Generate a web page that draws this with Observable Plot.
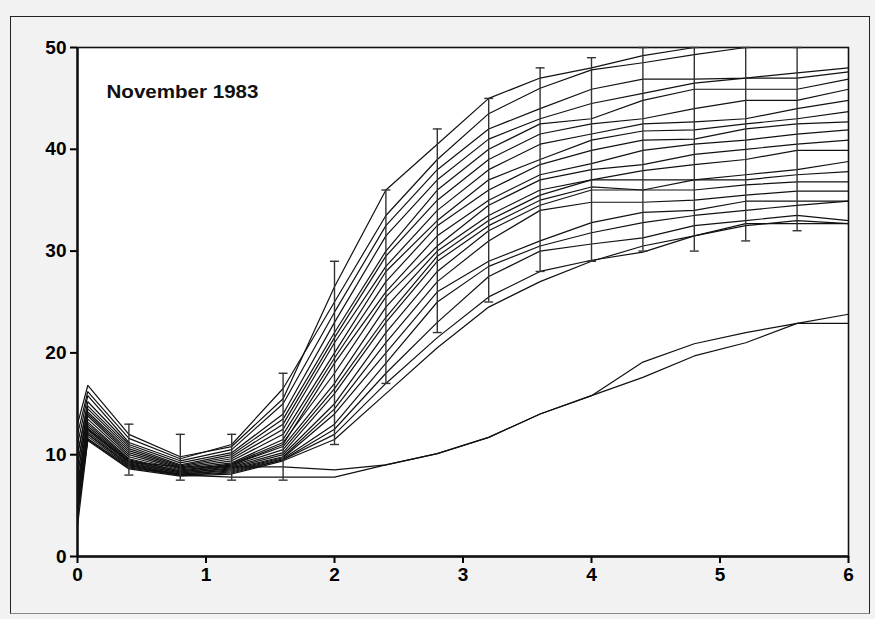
<!DOCTYPE html>
<html>
<head>
<meta charset="utf-8">
<script src="https://cdn.jsdelivr.net/npm/d3@7"></script>
<script src="https://cdn.jsdelivr.net/npm/@observablehq/plot@0.6"></script>
<style>
  html, body { margin: 0; padding: 0; background: #f2f2f2; }
  #wrap { position: relative; width: 875px; height: 619px; }
  #border { position: absolute; left: 10px; top: 16px; width: 858px; height: 596px; border: 1.5px solid #222; border-bottom-color: #888; pointer-events: none; }
</style>
</head>
<body>
<div id="wrap"><div id="border"></div></div>
<script>
const titleText = "November 1983";
const xTicks = [0, 1, 2, 3, 4, 5, 6];
const yTicks = [0, 10, 20, 30, 40, 50];

// sampling times (x) shared by all curves
const xs = [0, 0.08, 0.4, 0.8, 1.2, 1.6, 2.0, 2.4, 2.8, 3.2, 3.6, 4.0, 4.4, 4.8, 5.2, 5.6, 6.0];

// individual curves (y values at xs)
const s01 = [13, 16.8, 12.0, 9.8, 10.8, 15.5, 26.5, 36.0, 40.5, 45.0, 47.0, 48.0, 49.2, 50.0, 50.0, 50.0, 50.0];
const s02 = [12, 16.2, 11.6, 9.6, 11.0, 16.5, 25.0, 33.5, 39.0, 43.5, 46.0, 47.8, 48.5, 49.3, 50.0, 50.0, 50.0];
const s03 = [11, 15.8, 11.2, 9.4, 10.5, 15.0, 24.0, 32.5, 38.0, 42.0, 44.0, 45.9, 46.9, 46.9, 47.0, 47.5, 48.0];
const s04 = [10, 15.2, 11.0, 9.2, 10.2, 14.0, 23.0, 31.5, 37.0, 41.0, 43.0, 44.5, 45.5, 46.5, 47.0, 47.0, 47.6];
const s05 = [10, 14.8, 10.8, 9.0, 10.0, 13.5, 22.0, 30.0, 36.0, 40.0, 42.5, 43.0, 44.8, 45.9, 45.9, 45.9, 46.9];
const s06 = [9, 14.5, 10.6, 8.9, 9.8, 13.0, 21.5, 29.5, 35.0, 39.0, 41.5, 42.5, 43.0, 44.0, 44.8, 44.8, 45.9];
const s07 = [9, 14.2, 10.4, 8.8, 9.6, 12.5, 21.0, 28.5, 34.0, 38.0, 40.5, 41.5, 42.5, 42.7, 43.0, 44.0, 44.8];
const s08 = [8, 14.0, 10.2, 8.7, 9.4, 12.0, 20.0, 28.0, 33.0, 37.0, 39.0, 40.9, 41.8, 41.9, 42.5, 43.0, 43.7];
const s09 = [8, 13.8, 10.0, 8.6, 9.2, 11.5, 19.5, 27.0, 32.5, 36.0, 38.5, 39.9, 40.9, 41.0, 42.0, 42.5, 42.7];
const s10 = [7, 13.5, 9.8, 8.5, 9.0, 11.0, 19.0, 26.0, 31.5, 35.0, 37.5, 38.6, 39.9, 40.5, 40.9, 41.5, 41.9];
const s11 = [7, 13.2, 9.6, 8.4, 9.1, 11.2, 18.0, 25.5, 30.5, 34.5, 37.0, 38.0, 38.5, 39.5, 40.0, 40.5, 40.9];
const s12 = [6, 13.0, 9.5, 8.4, 9.0, 10.8, 17.0, 24.5, 30.0, 33.5, 36.0, 37.0, 37.9, 38.5, 39.0, 39.9, 39.9];
const s13 = [6, 12.8, 9.4, 8.3, 8.9, 10.5, 16.5, 23.5, 29.5, 33.0, 35.5, 37.0, 37.0, 37.0, 37.5, 38.0, 38.8];
const s14 = [6, 12.6, 9.3, 8.3, 8.8, 10.2, 16.0, 23.0, 29.0, 32.5, 35.0, 36.3, 36.0, 37.0, 37.0, 37.5, 37.8];
const s15 = [5, 12.4, 9.2, 8.2, 8.7, 10.0, 15.0, 22.0, 28.0, 32.0, 34.5, 36.0, 36.0, 36.0, 36.5, 36.8, 36.8];
const s16 = [5, 12.2, 9.1, 8.2, 8.6, 9.8, 14.5, 21.0, 27.0, 31.0, 34.0, 34.8, 34.8, 35.0, 35.5, 35.9, 35.9];
const s17 = [5, 12.0, 9.0, 8.1, 8.5, 9.7, 14.0, 20.0, 26.0, 29.0, 31.0, 32.8, 33.8, 34.0, 34.9, 34.9, 34.9];
const s18 = [4, 11.8, 8.9, 8.1, 8.4, 9.6, 13.0, 19.0, 25.0, 28.5, 30.5, 31.8, 32.8, 33.5, 34.0, 34.5, 34.9];
const s19 = [4, 11.6, 8.8, 8.0, 8.3, 9.5, 12.5, 18.0, 23.0, 27.5, 30.0, 30.7, 31.3, 32.5, 33.0, 33.5, 33.0];
const s20 = [4, 11.5, 8.7, 8.0, 8.2, 9.5, 12.0, 17.0, 21.5, 25.5, 28.0, 29.1, 29.9, 31.5, 32.7, 32.7, 32.7];
const s21 = [3, 11.4, 8.6, 7.9, 8.1, 9.4, 11.5, 16.0, 20.5, 24.5, 27.0, 29.0, 30.5, 31.5, 32.5, 33.0, 32.7];
const s22 = [6, 12.0, 9.0, 8.0, 7.8, 7.8, 7.8, 9.0, 10.1, 11.7, 14.0, 15.8, 17.6, 19.7, 21.0, 22.9, 22.9];
const s23 = [7, 12.5, 9.3, 8.8, 8.8, 8.8, 8.5, 9.0, 10.1, 11.7, 14.0, 15.8, 19.1, 20.9, 22.0, 22.9, 23.8];
const seriesList = [s01, s02, s03, s04, s05, s06, s07, s08, s09, s10, s11, s12, s13, s14, s15, s16, s17, s18, s19, s20, s21, s22, s23];

// error bars
const barX    = [0.4, 0.8, 1.2, 1.6, 2.0, 2.4, 2.8, 3.2, 3.6, 4.0, 4.4, 4.8, 5.2, 5.6];
const barLow  = [8.0, 7.5, 7.5, 7.5, 11.0, 17.0, 22.0, 25.0, 28.0, 29.0, 30.0, 30.0, 31.0, 32.0];
const barHigh = [13.0, 12.0, 12.0, 18.0, 29.0, 36.0, 42.0, 45.0, 48.0, 49.0, 50.0, 50.0, 50.0, 50.0];

const lineData = seriesList.flatMap((s, i) => s.map((v, j) => ({id: i, x: xs[j], y: v})));
const bars = barX.map((x, i) => ({x, lo: barLow[i], hi: barHigh[i]}));
const capHalf = 0.035;

const chart = Plot.plot({
  width: 875,
  height: 619,
  marginLeft: 77,
  marginRight: 27,
  marginTop: 47,
  marginBottom: 63,
  x: {domain: [0, 6]},
  y: {domain: [0, 50]},
  style: {fontFamily: "'Liberation Sans', Arial, sans-serif", fontSize: "19px", fontWeight: "bold", background: "transparent", color: "black", overflow: "visible"},
  marks: [
    Plot.frame({fill: "white", stroke: "#111", strokeWidth: 1.6}),
    Plot.axisX({ticks: xTicks, tickSize: 7, tickPadding: 4, tickFormat: d => String(d), label: null, strokeWidth: 2}),
    Plot.axisY({ticks: yTicks, tickSize: 7, tickPadding: 4, tickFormat: d => String(d), label: null, strokeWidth: 2}),
    Plot.line(lineData, {x: "x", y: "y", z: "id", stroke: "#111", strokeWidth: 1.2, curve: "linear"}),
    Plot.ruleX(bars, {x: "x", y1: "lo", y2: "hi", stroke: "#333", strokeWidth: 1.4}),
    Plot.link(bars, {x1: d => d.x - capHalf, x2: d => d.x + capHalf, y1: "lo", y2: "lo", stroke: "#333", strokeWidth: 1.4}),
    Plot.link(bars, {x1: d => d.x - capHalf, x2: d => d.x + capHalf, y1: "hi", y2: "hi", stroke: "#333", strokeWidth: 1.4}),
    Plot.ruleX([0], {stroke: "#111", strokeWidth: 2.4}),
    Plot.ruleY([0], {stroke: "#111", strokeWidth: 2.4}),
    Plot.text([titleText], {frameAnchor: "top-left", dx: 29, dy: 37, textAnchor: "start", fontSize: 18.5, fontWeight: "bold", fill: "#111"})
  ]
});
// stretch the title to the width it has in the reference
d3.select(chart).selectAll("text").filter(function () { return this.textContent === titleText; })
  .attr("textLength", 152).attr("lengthAdjust", "spacingAndGlyphs");
document.getElementById("wrap").prepend(chart);
</script>
</body>
</html>
